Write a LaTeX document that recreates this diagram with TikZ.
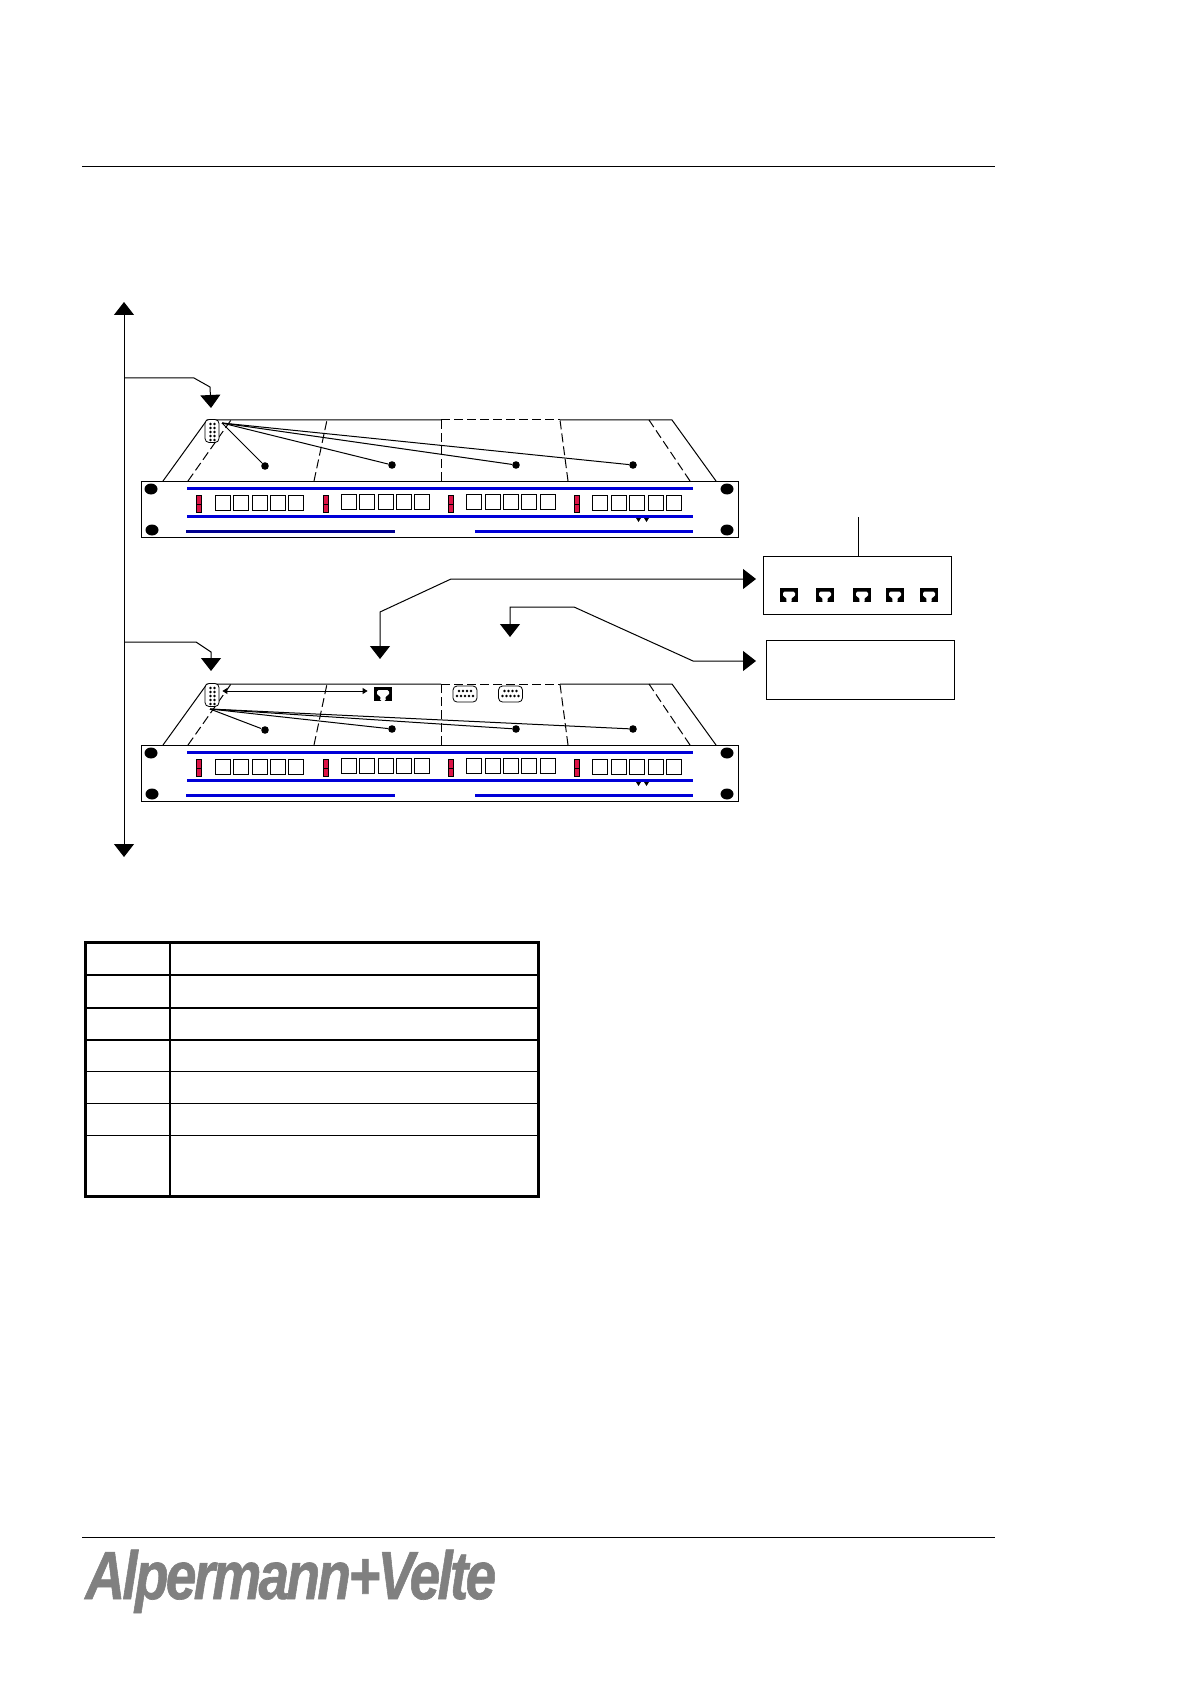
\documentclass[tikz,border=0pt]{standalone}
\usepackage{fontspec}
\setmainfont{Liberation Sans}
\usetikzlibrary{arrows.meta, calc, shapes.geometric}
\definecolor{railblue}{HTML}{0000D8}
\definecolor{railnavy}{HTML}{000090}
\definecolor{ledred}{HTML}{DC1446}
\definecolor{logogray}{HTML}{808080}
\tikzset{
  rackbox/.style={draw, line width=0.5pt, inner sep=0pt, anchor=north west, minimum width=298.5pt, minimum height=28pt},
  portbox/.style={draw, line width=0.5pt, inner sep=0pt, anchor=north west, minimum width=7.6pt, minimum height=7.4pt},
  ledbox/.style={draw, fill=ledred, line width=0.4pt, inner sep=0pt, anchor=north west, minimum width=2.5pt, minimum height=8.5pt},
  screwdot/.style={ellipse, fill=black, inner sep=0pt, minimum width=6.5pt, minimum height=5.5pt},
  wiredot/.style={circle, fill=black, inner sep=0pt, minimum size=3.8pt},
  dsubv/.style={draw, rounded corners=2pt, line width=0.4pt, inner sep=0pt, minimum width=7pt, minimum height=11.5pt},
  dsubh/.style={draw, rounded corners=2pt, line width=0.4pt, inner sep=0pt, minimum width=12pt, minimum height=8pt},
  jackbox/.style={fill=black, inner sep=0pt, minimum width=9pt, minimum height=7pt},
  framebox/.style={draw, line width=0.5pt, inner sep=0pt, anchor=north west},
  wire/.style={line width=0.5pt},
  dashline/.style={line width=0.5pt, dash pattern=on 4.5pt off 2pt},
  bigarrow/.style={line width=0.5pt, >={Triangle[width=10pt,length=6.5pt]}},
  tinyarrow/.style={line width=0.5pt, >={Triangle[width=3pt,length=2.5pt]}}
}
\newcommand{\jackport}[2]{%
  \node[jackbox] (#1) at (#2) {};
  \fill[white, rounded corners=0.8pt, shift={(#2)}] (-6,-3.5) -- (6,-3.5) -- (6,2) -- (2.5,2) -- (2.5,5) -- (3,7.5) -- (-3,7.5) -- (-2.5,5) -- (-2.5,2) -- (-6,2) -- cycle;
}
\begin{document}
\begin{tikzpicture}[x=0.5pt, y=-0.5pt]
  \useasboundingbox (0,0) rectangle (1190,1684);
  \draw[wire] (82,166.5) -- (995,166.5);
  \draw[wire] (82,1537) -- (995,1537);

  % the two racks, second one 264 further down
  \foreach \n/\dy/\ox/\oy/\lowrail in {a/0/222/423/railnavy, b/264/210/445/railblue}{
    \begin{scope}[shift={(0,\dy)}]
      \node[rackbox] (rack\n) at (141,481) {};
      \draw[wire] (163,481) -- (207,420) -- (441,420);
      \draw[wire] (560,420) -- (672,420) -- (716,481);
      \draw[dashline] (441,420) -- (560,420);
      \draw[dashline] (188,481) -- (231,420);
      \draw[dashline] (314,481) -- (327,420);
      \draw[dashline] (441,481) -- (441,420);
      \draw[dashline] (568,481) -- (560,420);
      \draw[dashline] (690,481) -- (649,420);
      \foreach \sx/\sy [count=\i] in {151/489, 152/530, 727/489, 727/530}{
        \node[screwdot] (screw\n\i) at (\sx,\sy) {};
      }
      \draw[railblue, line width=1.5pt] (187,488.5) -- (693,488.5);
      \draw[railblue, line width=1.5pt] (187,516.5) -- (693,516.5);
      \draw[\lowrail, line width=1.4pt] (186,531.5) -- (395,531.5);
      \draw[railblue, line width=1.4pt] (475,531.5) -- (693,531.5);
      \foreach \lx in {196,323,448,574}{
        \node[ledbox] (led\n\lx) at (\lx,495) {};
        \draw[line width=0.3pt] (led\n\lx.west) -- (led\n\lx.east);
      }
      \foreach \px in {215,233,252,270,288,592,611,629,648,666}{
        \node[portbox] (port\n\px) at (\px,495) {};
      }
      \foreach \px in {341,359,378,396,414,466,485,503,521,540}{
        \node[portbox] (port\n\px) at (\px,494) {};
      }
      \fill (636,518) -- (641,518) -- (638.5,522) -- cycle;
      \fill (644,518) -- (649,518) -- (646.5,522) -- cycle;
      \node[dsubv, fill=white] (dsub\n) at (212,431) {};
      \foreach \dr in {0,1,...,4}{
        \fill (210.5,\dr*4+424) circle (0.65pt);
        \fill (214.5,\dr*4+424) circle (0.65pt);
      }
      \coordinate (wireroot\n) at (\ox,\oy);
      \foreach \wx/\wy [count=\i] in {265/466, 392/465, 516/465, 633/465}{
        \node[wiredot] (wiredot\n\i) at (\wx,\wy) {};
        \draw[wire] (wireroot\n) -- (wiredot\n\i);
      }
    \end{scope}
  }

  % bus and tap-offs
  \coordinate (bustop) at (124,302);
  \coordinate (busbot) at (124,857);
  \draw[bigarrow, <->] (bustop) -- (busbot);
  \coordinate (tapa) at (124,378);
  \coordinate (tapb) at (124,642);
  \coordinate (tipa) at (211,408);
  \coordinate (tipb) at (211,671);
  \draw[bigarrow, ->] (tapa) -- (194,378) -- (210,387) -- (tipa);
  \draw[bigarrow, ->] (tapb) -- (196,642) -- (211,652) -- (tipb);

  % sockets on the lower rack
  \jackport{jackrack}{383,693.5}
  \node[dsubh] (subd1) at (465,694) {};
  \node[dsubh] (subd2) at (510.5,694) {};
  \foreach \sx in {465,510.5}{
    \foreach \dc in {-2,-1,...,1}{\fill (\sx+\dc*4+2,691) circle (0.65pt);}
    \foreach \dc in {-2,-1,...,2}{\fill (\sx+\dc*4,696) circle (0.65pt);}
  }
  \draw[tinyarrow, <->] ($(dsubb.east)+(3,-4)$) -- ($(jackrack.west)+(-6,-2.5)$);

  % the two boxes on the right
  \node[framebox, minimum width=94pt, minimum height=29pt] (hubbox) at (763,556) {};
  \node[framebox, minimum width=94pt, minimum height=29.5pt] (infobox) at (766,640) {};
  \coordinate (hubtap) at (858,517);
  \draw[wire] (hubtap) -- (hubtap |- hubbox.north);
  \foreach \jx [count=\i] in {789,825,862,895,929}{
    \jackport{hubjack\i}{\jx,595}
  }
  \coordinate (tiphub) at (756,579);
  \coordinate (tipjack) at (380,659);
  \coordinate (tipinfo) at (756,661);
  \coordinate (tipsub) at (510,637);
  \draw[bigarrow, <->] (tipjack) -- (380,612) -- (451,579) -- (tiphub);
  \draw[bigarrow, <->] (tipsub) -- (510,607) -- (574,607) -- (693,661) -- (tipinfo);

  % table
  \draw[line width=1.5pt] (85,942) rectangle (538.5,1196);
  \draw[line width=1.2pt] (170,942) -- (170,1196);
  \foreach \ry/\rw in {975/1.3pt, 1008/1pt, 1040/1pt, 1071/0.5pt, 1103/0.5pt, 1135/0.5pt}{
    \draw[line width=\rw] (85,\ry) -- (538.5,\ry);
  }

  \node[anchor=base west, inner sep=0pt, xscale=0.81, text=logogray, font=\fontsize{34}{34}\selectfont\bfseries\itshape\addfontfeature{LetterSpace=-5,FakeBold=1}] (logo) at (85,1599) {Alpermann+Velte};
\end{tikzpicture}
\end{document}
